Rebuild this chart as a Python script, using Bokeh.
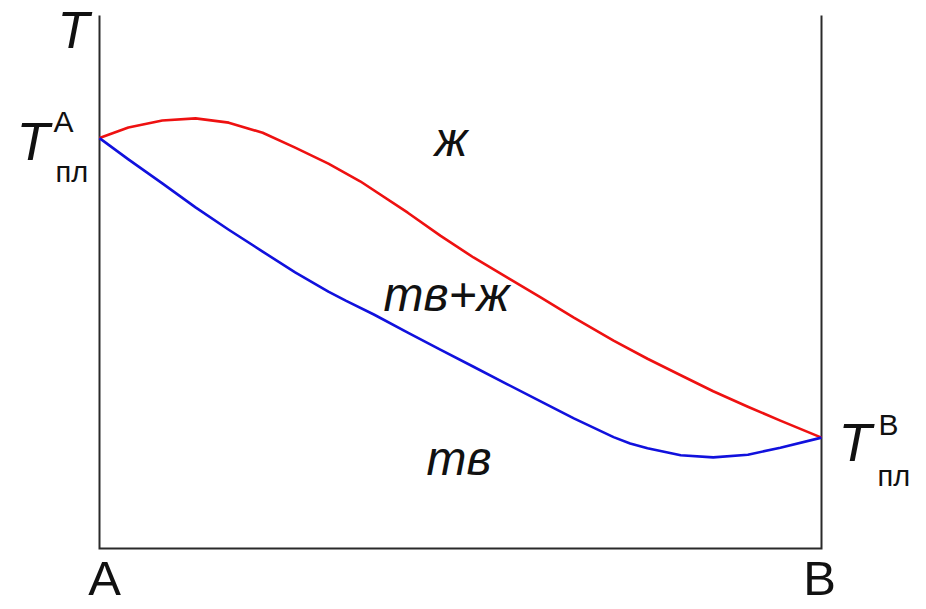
from bokeh.plotting import figure
from bokeh.models import Range1d, Label
from bokeh.embed import file_html
from bokeh.resources import INLINE

# composition (% of B) and temperatures (arbitrary units)
liquidus_x = [0.0, 4.0, 8.7, 13.3, 17.9, 22.6, 27.1, 31.7, 36.1, 42.7, 47.2, 51.8,
              56.5, 61.1, 65.7, 71.2, 75.9, 80.5, 85.0, 89.8, 94.3, 100.0]
liquidus_t = [77.0, 79.0, 80.3, 80.7, 79.9, 78.0, 75.2, 72.2, 68.9, 63.0, 58.7, 54.6,
              50.8, 47.1, 43.3, 39.0, 35.6, 32.5, 29.5, 26.6, 24.0, 20.8]
solidus_x = [0.0, 4.0, 8.7, 13.3, 17.9, 22.6, 27.1, 31.7, 34.1, 38.0, 42.7, 47.2,
             51.8, 56.5, 61.1, 65.7, 71.2, 73.5, 75.9, 80.5, 85.0, 89.8, 94.3, 100.0]
solidus_t = [77.0, 73.0, 68.5, 64.0, 59.8, 55.7, 51.8, 48.2, 46.5, 43.9, 40.5, 37.3,
             34.1, 30.8, 27.6, 24.4, 20.9, 19.7, 18.8, 17.5, 17.1, 17.6, 18.9, 20.8]
x_min, x_max = 0.0, 100.0   # pure A, pure B
t_min, t_max = 0.0, 100.0   # bottom and top of the temperature axis

# canvas geometry in pixels (styling only)
W, H = 918, 608
FL, FR, FT, FB = 99, 821, 15, 548  # where x_min, x_max, t_max, t_min sit

sx = (FR - FL) / (x_max - x_min)
sy = (FB - FT) / (t_max - t_min)


def dx(px):
    return x_min + (px - FL) / sx


def dy(py):
    return t_min + (FB - py) / sy


p = figure(width=W, height=H, output_backend="svg", toolbar_location=None,
           x_range=Range1d(dx(0), dx(W)), y_range=Range1d(dy(H), dy(0)),
           x_axis_location=None, y_axis_location=None,
           min_border=0, min_border_left=0, min_border_right=0,
           min_border_top=0, min_border_bottom=0)
p.grid.visible = False
p.outline_line_color = None
p.background_fill_color = "white"
p.border_fill_color = "white"

# frame: left axis, bottom axis, right axis
p.line([x_min, x_min, x_max, x_max], [t_max, t_min, t_min, t_max],
       line_color="#2a2a2a", line_width=2, line_join="miter")

p.line(liquidus_x, liquidus_t, line_color="#ee1111", line_width=2.6, line_join="round")
p.line(solidus_x, solidus_t, line_color="#1111dd", line_width=2.6, line_join="round")

FONT = "Liberation Sans"


def lab(text, px, py, size, italic=False, align="left"):
    # py is the wanted baseline; the renderer drops "alphabetic" text ~0.4em lower
    p.add_layout(Label(x=dx(px), y=dy(py - 0.4 * size), text=text, text_font=FONT,
                       text_font_size=f"{size}px",
                       text_font_style="italic" if italic else "normal",
                       text_color="#111111", text_align=align,
                       text_baseline="alphabetic"))


# axis title
lab("T", 57, 50, 52, italic=True)
# melting point of A
lab("T", 16, 162, 54, italic=True)
lab("A", 53, 133, 30)
lab("пл", 55, 183, 29)
# melting point of B
lab("T", 838, 463, 54, italic=True)
lab("B", 878, 436, 30)
lab("пл", 877, 487, 29)
# region labels
lab("ж", 434, 158, 48, italic=True)
lab("тв+ж", 383, 313, 48, italic=True)
lab("тв", 426, 477, 48, italic=True)
# component labels
lab("A", 104, 597, 49, align="center")
lab("B", 819, 597, 49, align="center")

open("out.html", "w").write(file_html(p, INLINE))
